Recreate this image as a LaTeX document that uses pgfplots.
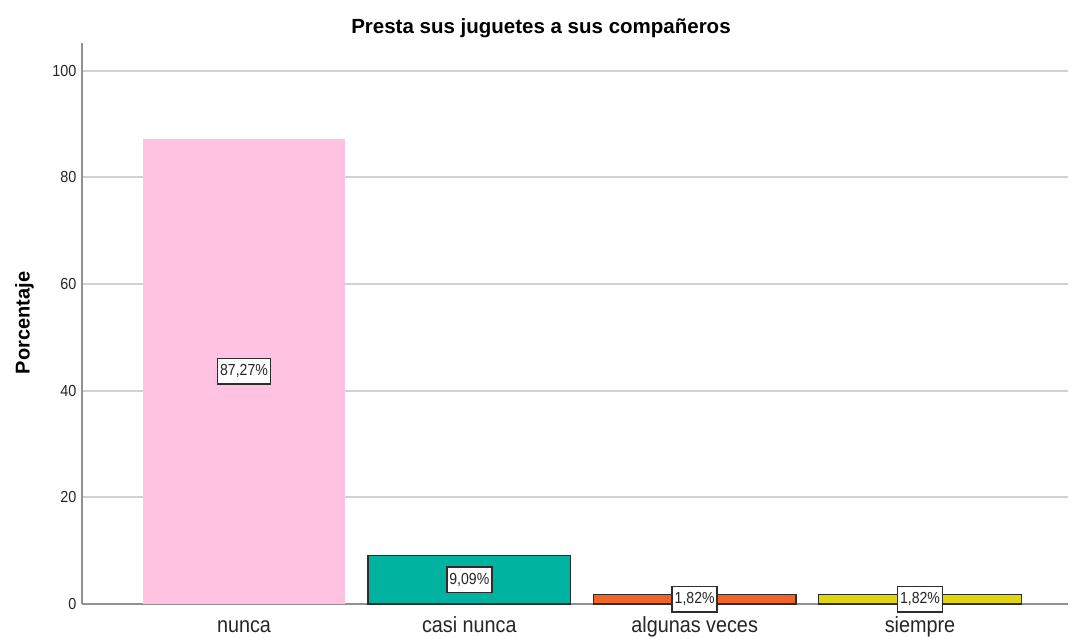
\documentclass[border=0pt]{standalone}
\usepackage{pgfplots}
\pgfplotsset{compat=1.18}
\usepackage{fontspec}
\setmainfont{Liberation Sans}
\newfontfamily\narrow[FakeStretch=0.9]{Liberation Sans}
\newfontfamily\narrowlab[FakeStretch=0.88]{Liberation Sans}
\definecolor{cpink}{RGB}{255,194,225}
\definecolor{cteal}{RGB}{0,178,160}
\definecolor{corange}{RGB}{240,100,40}
\definecolor{cyellow}{RGB}{225,213,12}
\definecolor{cgrid}{RGB}{210,210,210}
\definecolor{caxis}{RGB}{145,145,145}
\definecolor{cedge}{RGB}{45,45,45}
\begin{document}
\begin{tikzpicture}
\begin{axis}[
  scale only axis, width=986pt, height=561pt,
  xmin=-0.719, xmax=3.657, ymin=0, ymax=105.2,
  axis x line*=bottom, axis y line*=left,
  x axis line style={draw=caxis, line width=1.6pt, -},
  y axis line style={draw=caxis, line width=1.8pt, -},
  ytick={0,20,40,60,80,100},
  ymajorgrids, grid style={draw=cgrid, line width=1.8pt},
  xtick={0,1,2,3},
  xticklabels={nunca, casi nunca, algunas veces, siempre},
  major tick length=0pt,
  /pgf/number format/assume math mode=true,
  yticklabel style={font=\narrow\fontsize{16}{16}\selectfont, xshift=-2pt, text=black!85},
  xticklabel style={font=\narrow\fontsize{22}{22}\selectfont, anchor=base, yshift=-29pt, text=black!85},
  clip=false,
]
\addplot[ybar, bar width=0.9, bar shift=0pt, fill=cpink, draw=none] coordinates {(0,87.27)};
\addplot[ybar, bar width=0.9, bar shift=0pt, fill=cteal, draw=cedge, line width=1.5pt] coordinates {(1,9.09)};
\addplot[ybar, bar width=0.9, bar shift=0pt, fill=corange, draw=cedge, line width=1.5pt] coordinates {(2,1.82)};
\addplot[ybar, bar width=0.9, bar shift=0pt, fill=cyellow, draw=cedge, line width=1.5pt] coordinates {(3,1.82)};
\addplot[draw=none, mark=none, point meta=explicit symbolic, nodes near coords,
  nodes near coords style={anchor=center, draw=cedge, line width=1.5pt, fill=white, text=black!85,
    font=\narrowlab\fontsize{16}{16}\selectfont, inner xsep=2.5pt, inner ysep=6pt}]
  coordinates {(0,43.635)[87,27\%] (1,4.545)[9,09\%] (2,0.91)[1,82\%] (3,0.91)[1,82\%]};
\node[anchor=base, font=\bfseries\fontsize{20.5}{20.5}\selectfont] at (axis description cs:0.4655,1.0178) {Presta sus juguetes a sus compañeros};
\node[anchor=base, rotate=90, font=\bfseries\fontsize{20}{20}\selectfont] at (axis description cs:-0.0532,0.501) {Porcentaje};
\end{axis}
\pgfresetboundingbox
\path[use as bounding box] (current axis.south west) ++(-82pt,-35pt) rectangle ([xshift=2pt,yshift=43pt]current axis.north east);
\end{tikzpicture}
\end{document}
